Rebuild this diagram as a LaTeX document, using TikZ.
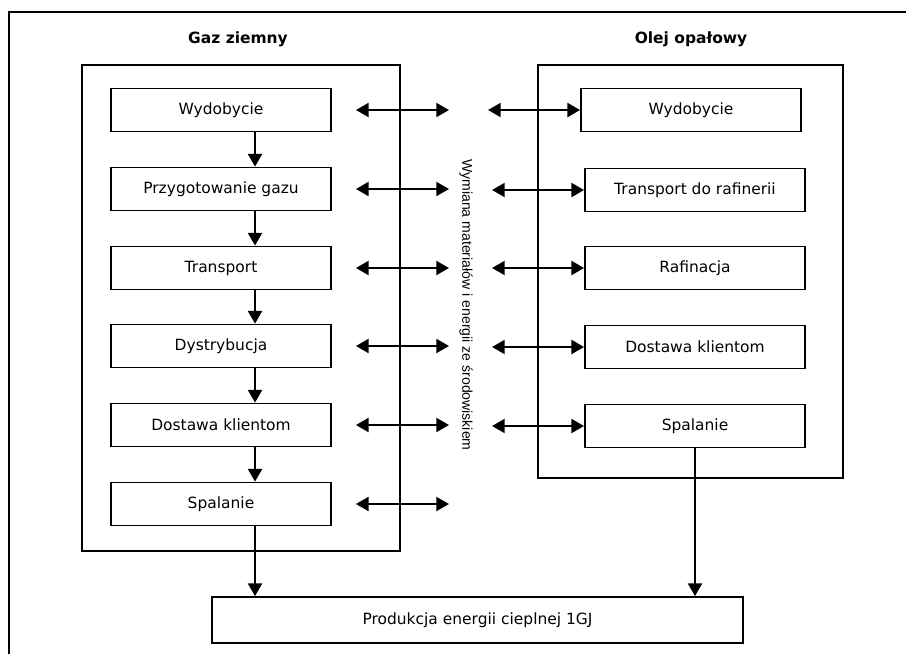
\documentclass[tikz,border=0pt]{standalone}
\usepackage{fontspec}
\setmainfont{DejaVu Sans}
\newfontfamily\vertfont{Liberation Sans}
\usetikzlibrary{arrows.meta}

\begin{document}
\begin{tikzpicture}[x=0.025cm, y=-0.025cm,
        box/.style={draw, line width=1.3pt, minimum width=5.5cm, minimum height=1.075cm, inner sep=0pt, font=\fontsize{11}{13}\selectfont},
        frame/.style={draw, line width=1.3pt, inner sep=0pt},
        flow/.style={line width=1.3pt, -{Triangle[length=9pt,width=10pt]}},
        exch/.style={line width=1.3pt, {Triangle[length=9pt,width=10pt]}-{Triangle[length=9pt,width=10pt]}}]
    \useasboundingbox (0,0) rectangle (906,654);
    \draw[line width=1.6pt] (9,654) -- (9,12) -- (906,12);
    % two chains
    \node[frame, minimum width=7.95cm, minimum height=12.15cm] (gframe) at (241,308) {};
    \node[frame, minimum width=7.625cm, minimum height=10.325cm] (oframe) at (690.5,271.5) {};
    \node[font=\bfseries\fontsize{11}{13}\selectfont] (gtitle) at (238,39) {Gaz ziemny};
    \node[font=\bfseries\fontsize{11}{13}\selectfont] (otitle) at (691,39) {Olej opałowy};
    \foreach \i/\y/\t in {1/110/Wydobycie, 2/189/Przygotowanie gazu, 3/268/Transport,
                          4/346/Dystrybucja, 5/425/Dostawa klientom, 6/504/Spalanie}
    {
        \node[box] (g\i) at (221,\y) {\t};
        \coordinate (ga\i) at ([xshift=0.6cm]g\i.east);
        \coordinate (gb\i) at ([xshift=2.925cm]g\i.east);
        \draw[exch] (ga\i) -- (gb\i);
    }
    \foreach \i/\x/\y/\t in {1/691/110/Wydobycie, 2/695/190/Transport do rafinerii, 3/695/268/Rafinacja,
                             4/695/347/Dostawa klientom, 5/695/426/Spalanie}
    {
        \node[box] (o\i) at (\x,\y) {\t};
        \coordinate (oa\i) at ([xshift=-2.3cm]o\i.west);
        \draw[exch] (oa\i) -- (o\i.west);
    }
    \foreach \i [evaluate=\i as \j using int(\i+1)] in {1,...,5}
        \draw[flow] ([xshift=0.85cm]g\i.south) -- ([xshift=0.85cm]g\j.north);
    \node[font=\vertfont\fontsize{10}{12}\selectfont, rotate=-90] (env) at (466,305) {Wymiana materiałów i energii ze środowiskiem};
    \node[box, minimum width=13.275cm, minimum height=1.15cm] (prod) at (477.5,620) {Produkcja energii cieplnej 1GJ};
    \draw[flow] ([xshift=0.85cm]g6.south) -- ([xshift=0.85cm]g6.south |- prod.north);
    \draw[flow] (o5.south) -- (o5.south |- prod.north);
\end{tikzpicture}
\end{document}
